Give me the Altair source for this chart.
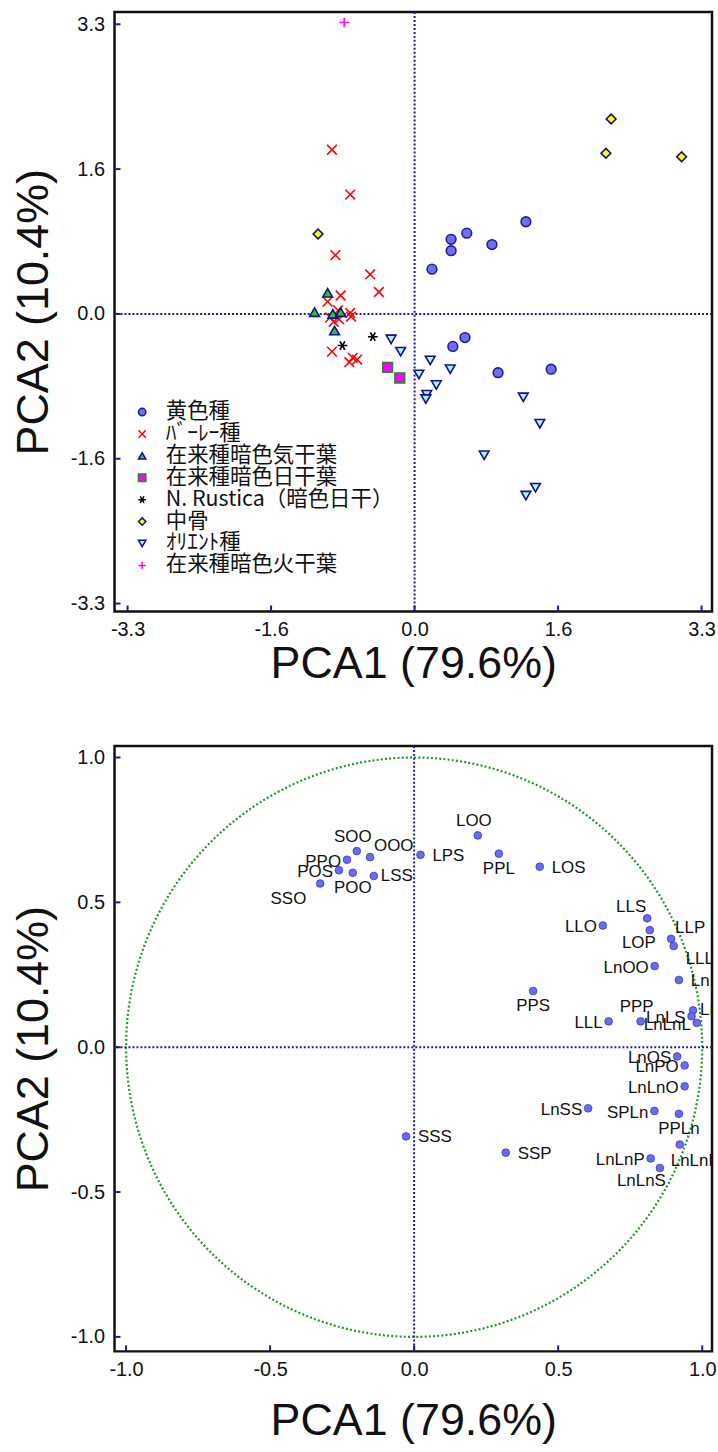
import altair as alt
import pandas as pd

# ---------------- score plot (samples) ----------------
GROUPS = [
    "黄色種",
    "ﾊﾞｰﾚｰ種",
    "在来種暗色気干葉",
    "在来種暗色日干葉",
    "N. Rustica（暗色日干）",
    "中骨",
    "ｵﾘｴﾝﾄ種",
    "在来種暗色火干葉",
]

FLUE_X = [1.28, 0.60, 0.42, 0.89, 0.42, 0.20, 0.58, 0.44, 0.96, 1.57]
FLUE_Y = [1.05, 0.92, 0.85, 0.79, 0.72, 0.51, -0.27, -0.37, -0.67, -0.63]

BURLEY_X = [-0.95, -0.74, -0.91, -0.51, -0.41, -0.85, -1.00, -0.88, -0.97,
            -0.87, -0.74, -0.73, -0.93, -0.95, -0.75, -0.66, -0.71]
BURLEY_Y = [1.87, 1.36, 0.67, 0.45, 0.25, 0.21, 0.14, 0.04, -0.04,
            -0.06, 0.01, -0.03, -0.09, -0.43, -0.55, -0.52, -0.50]

AIR_X = [-1.00, -1.15, -0.94, -0.85, -0.92]
AIR_Y = [0.24, 0.02, 0.00, 0.02, -0.19]

SUN_X = [-0.31, -0.17]
SUN_Y = [-0.61, -0.73]

RUSTICA_X = [-0.48, -0.83]
RUSTICA_Y = [-0.26, -0.36]

MIDRIB_X = [2.26, 2.20, 3.07, -1.11]
MIDRIB_Y = [2.22, 1.83, 1.79, 0.91]

ORIENT_X = [-0.27, -0.16, 0.18, 0.41, 0.05, 0.25, 0.14, 0.13, 1.25, 1.44, 0.80, 1.39, 1.28]
ORIENT_Y = [-0.29, -0.43, -0.53, -0.63, -0.69, -0.81, -0.92, -0.97, -0.95, -1.25, -1.61, -1.98, -2.07]

FIRE_X = [-0.81]
FIRE_Y = [3.32]

SCORE_TICKS = [-3.3, -1.65, 0.0, 1.65, 3.3]

# ---------------- loading plot (triacylglycerols) ----------------
TAG = ["LOO", "PPL", "LOS", "LPS", "OOO", "SOO", "PPO", "POS", "POO", "LSS", "SSO",
       "LLS", "LOP", "LLO", "LLP", "LLLn", "LnOO", "LnLO", "PPS", "PPP", "LLL",
       "LPLn", "LnLS", "LnLnL", "LnOS", "LnPO", "LnLnO", "LnSS", "SPLn", "PPLn",
       "LnLnLn", "LnLnP", "LnLnS", "SSP", "SSS"]
LOAD_X = [0.221, 0.294, 0.436, 0.022, -0.153, -0.199, -0.233, -0.261, -0.213, -0.140, -0.326,
          0.809, 0.818, 0.655, 0.892, 0.901, 0.835, 0.919, 0.413, 0.786, 0.675,
          0.968, 0.963, 0.981, 0.913, 0.939, 0.939, 0.604, 0.834, 0.919,
          0.922, 0.821, 0.853, 0.318, -0.028]
LOAD_Y = [0.731, 0.668, 0.623, 0.664, 0.656, 0.677, 0.647, 0.611, 0.602, 0.591, 0.565,
          0.445, 0.404, 0.420, 0.374, 0.349, 0.280, 0.232, 0.194, 0.089, 0.089,
          0.127, 0.107, 0.084, -0.032, -0.063, -0.135, -0.211, -0.220, -0.230,
          -0.336, -0.384, -0.417, -0.364, -0.308]
# side of the point on which each name is written
LABEL_SIDE = ["T", "B", "R", "R", "TR", "T", "L", "L", "B", "Rn", "BL",
              "TL", "BW", "L", "TR", "RB", "L", "R", "B", "T", "L",
              "Rn", "L", "L", "L", "L", "L", "L", "L", "B",
              "BR", "L", "BW", "R", "R"]

LOAD_TICKS = [-1.0, -0.5, 0.0, 0.5, 1.0]

# ---------------- styling ----------------
AXIS_FONT = "Liberation Sans"
NAVY = "#1a1a9a"
W, H = 600, 602
H2 = 608

SHAPES = [
    "circle",
    "M-1,-1L1,1M-1,1L1,-1",
    "triangle-up",
    "square",
    "M-1,0L1,0M-0.5,-0.87L0.5,0.87M-0.5,0.87L0.5,-0.87",
    "diamond",
    "triangle-down",
    "M-1,0L1,0M0,-1L0,1",
]
FILLS = ["#7070ee", "transparent", "#22cc22", "#ff00ff", "transparent",
         "#ffff00", "#b4f0ff", "transparent"]
STROKES = ["#1c1c9c", "#ff0000", "#10108c", "#1e8c1e", "#000000",
           "#10107c", "#10108c", "#ff00ff"]

series = [
    (FLUE_X, FLUE_Y), (BURLEY_X, BURLEY_Y), (AIR_X, AIR_Y), (SUN_X, SUN_Y),
    (RUSTICA_X, RUSTICA_Y), (MIDRIB_X, MIDRIB_Y), (ORIENT_X, ORIENT_Y), (FIRE_X, FIRE_Y),
]
rows = []
for g, (xs, ys) in zip(GROUPS, series):
    for x, y in zip(xs, ys):
        rows.append({"group": g, "pc1": x, "pc2": y})
scores = pd.DataFrame(rows)

label_expr = "replace(format(datum.value, '.1f'), '\u2212', '-')"


def axis(values, title_pad, orient):
    return alt.Axis(
        values=values, labelExpr=label_expr, ticks=False, tickSize=0, domain=False,
        grid=False, labelFont=AXIS_FONT, labelFontSize=20, labelColor="#111111",
        labelPadding=8 if orient == "x" else 10,
        titleFont=AXIS_FONT, titleFontSize=45, titleFontWeight="normal",
        titleColor="#111111", titlePadding=title_pad,
    )


def frame_layers(ticks, xs, ys, h):
    """Dotted zero lines and small inward ticks."""
    zero = pd.DataFrame({"v": [0.0]})
    vline = alt.Chart(zero).mark_rule(color=NAVY, strokeWidth=2, strokeDash=[2, 2]).encode(
        x=alt.X("v:Q", scale=xs))
    hline = alt.Chart(zero).mark_rule(color=NAVY, strokeWidth=2, strokeDash=[2, 2]).encode(
        y=alt.Y("v:Q", scale=ys))
    tk = pd.DataFrame({"v": ticks})
    xt = alt.Chart(tk).mark_rule(color=NAVY, strokeWidth=2).encode(
        x=alt.X("v:Q", scale=xs), y=alt.value(h), y2=alt.value(h - 6))
    yt = alt.Chart(tk).mark_rule(color=NAVY, strokeWidth=2).encode(
        y=alt.Y("v:Q", scale=ys), x=alt.value(0), x2=alt.value(6))
    return [vline, hline, xt, yt]


# ---- top panel ----
sx1 = alt.Scale(domain=[-3.45, 3.42], nice=False, zero=False)
sy1 = alt.Scale(domain=[-3.39, 3.44], nice=False, zero=False)

pts1 = alt.Chart(scores).mark_point(filled=True, size=95, strokeWidth=1.6, opacity=1).encode(
    x=alt.X("pc1:Q", scale=sx1, axis=axis(SCORE_TICKS, 2, "x"), title="PCA1 (79.6%)"),
    y=alt.Y("pc2:Q", scale=sy1, axis=axis(SCORE_TICKS, 14, "y"), title="PCA2 (10.4%)"),
    shape=alt.Shape("group:N", scale=alt.Scale(domain=GROUPS, range=SHAPES), title=None),
    fill=alt.Fill("group:N", scale=alt.Scale(domain=GROUPS, range=FILLS), title=None),
    stroke=alt.Stroke("group:N", scale=alt.Scale(domain=GROUPS, range=STROKES), title=None),
)

top = alt.layer(*frame_layers(SCORE_TICKS, sx1, sy1, H), pts1).properties(width=W, height=H)

# ---- bottom panel ----
sx2 = alt.Scale(domain=[-1.04, 1.034], nice=False, zero=False)
sy2 = alt.Scale(domain=[-1.05, 1.04], nice=False, zero=False)

loads = pd.DataFrame({"name": TAG, "pc1": LOAD_X, "pc2": LOAD_Y, "side": LABEL_SIDE})

circle = alt.Chart(alt.sequence(0, 362, 2, as_="deg")).transform_calculate(
    cx="cos(datum.deg * PI / 180)", cy="sin(datum.deg * PI / 180)"
).mark_line(color="#1f9a1f", strokeWidth=2.2, strokeDash=[2, 2.2]).encode(
    x=alt.X("cx:Q", scale=sx2, axis=axis(LOAD_TICKS, 19, "x"), title="PCA1 (79.6%)"),
    y=alt.Y("cy:Q", scale=sy2, axis=axis(LOAD_TICKS, 14, "y"), title="PCA2 (10.4%)"),
    order="deg:Q",
)

pts2 = alt.Chart(loads).mark_circle(size=60, color="#6b6bef", stroke="#3a3ab8",
                                    strokeWidth=0.8, opacity=1).encode(
    x=alt.X("pc1:Q", scale=sx2), y=alt.Y("pc2:Q", scale=sy2))

PLACE = {
    "T": dict(align="center", baseline="bottom", dx=-4, dy=-5),
    "B": dict(align="center", baseline="top", dx=0, dy=7),
    "L": dict(align="right", baseline="middle", dx=-6, dy=2),
    "R": dict(align="left", baseline="middle", dx=12, dy=1),
    "Rn": dict(align="left", baseline="middle", dx=7, dy=0),
    "TL": dict(align="right", baseline="bottom", dx=-1, dy=-2),
    "TR": dict(align="left", baseline="bottom", dx=4, dy=-2),
    "BL": dict(align="right", baseline="top", dx=-14, dy=8),
    "BW": dict(align="right", baseline="top", dx=6, dy=5),
    "RB": dict(align="left", baseline="top", dx=12, dy=5),
    "BR": dict(align="left", baseline="top", dx=-9, dy=9),
}
texts = []
for side, p in PLACE.items():
    texts.append(
        alt.Chart(loads).transform_filter(alt.datum.side == side).mark_text(
            font=AXIS_FONT, fontSize=17, color="#111111", clip=True, **p
        ).encode(x=alt.X("pc1:Q", scale=sx2), y=alt.Y("pc2:Q", scale=sy2), text="name:N")
    )

bottom = alt.layer(circle, *frame_layers(LOAD_TICKS, sx2, sy2, H2), pts2, *texts).properties(
    width=W, height=H2)

chart = alt.vconcat(top, bottom, spacing=135, bounds="flush").properties(
    padding={"left": 10, "top": 6, "right": 0, "bottom": 0},
    background="white",
).configure_view(
    stroke="#111111", strokeWidth=2.5
).configure_legend(
    orient="none", legendX=17, legendY=391, padding=0,
    labelFont="Noto Sans CJK JP", labelFontSize=21.5, labelColor="#111111",
    labelOffset=13, symbolSize=55, symbolStrokeWidth=1.5, rowPadding=-1.3,
    labelLimit=400,
)

chart.save("out.html", embed_options={"renderer": "svg", "actions": False})
